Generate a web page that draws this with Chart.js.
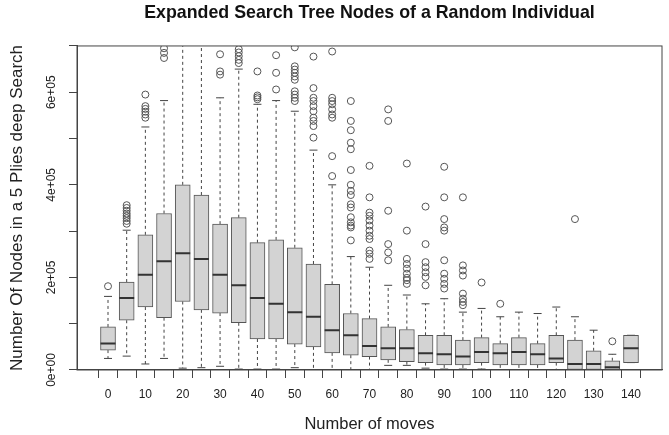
<!DOCTYPE html>
<html>
<head>
<meta charset="utf-8">
<script src="https://cdn.jsdelivr.net/npm/chart.js@4"></script>
<style>
  body { margin: 0; background: #fff; }
</style>
</head>
<body>
<canvas id="chart" width="669" height="435"></canvas>
<script>
// values are in units of 1e+05 nodes
var UNIT = 1e5;
var moves = [0, 5, 10, 15, 20, 25, 30, 35, 40, 45, 50, 55, 60, 65, 70, 75, 80, 85, 90, 95, 100, 105, 110, 115, 120, 125, 130, 135, 140];
var lowerWhisker  = [0.25, 0.30, 0.13, 0.25, 0.04, 0.05, 0.08, 0.02, 0.02, 0.02, 0.05, 0.00, 0.00, 0.00, 0.00, 0.10, 0.10, 0.04, 0.02, 0.02, 0.02, 0.00, 0.00, 0.00, 0.00, 0.00, 0.00, 0.00, 0.16];
var lowerQuartile = [0.43, 1.075, 1.36, 1.13, 1.48, 1.30, 1.23, 1.02, 0.67, 0.67, 0.56, 0.50, 0.37, 0.32, 0.29, 0.22, 0.18, 0.16, 0.11, 0.11, 0.16, 0.11, 0.11, 0.11, 0.16, 0.01, 0.01, 0.01, 0.16];
var medians       = [0.57, 1.555, 2.06, 2.35, 2.52, 2.40, 2.06, 1.83, 1.555, 1.43, 1.25, 1.15, 0.86, 0.75, 0.52, 0.47, 0.47, 0.36, 0.34, 0.29, 0.39, 0.36, 0.39, 0.34, 0.25, 0.13, 0.13, 0.06, 0.47];
var upperQuartile = [0.93, 1.90, 2.92, 3.38, 4.00, 3.78, 3.15, 3.29, 2.75, 2.81, 2.64, 2.29, 1.85, 1.22, 1.11, 0.93, 0.875, 0.75, 0.75, 0.645, 0.70, 0.57, 0.70, 0.57, 0.75, 0.645, 0.415, 0.20, 0.75];
var upperWhisker  = [1.59, 3.02, 5.25, 5.82, 7.60, 7.60, 5.88, 6.50, 5.74, 5.82, 5.59, 4.75, 4.00, 2.45, 2.22, 1.83, 1.62, 1.43, 1.54, 1.25, 1.33, 1.15, 1.25, 1.22, 1.36, 1.15, 0.86, 0.34, 0.75];
var outliers = [
  [1.81],
  [3.16, 3.22, 3.28, 3.33, 3.38, 3.44, 3.50, 3.56],
  [5.45, 5.52, 5.58, 5.64, 5.70, 5.95],
  [6.74, 6.85, 6.95],
  [],
  [],
  [6.38, 6.45, 6.82],
  [6.63, 6.70, 6.78, 6.86, 6.93],
  [5.85, 5.89, 5.93, 6.45],
  [6.06, 6.42, 6.80],
  [5.81, 5.88, 5.95, 6.02, 6.27, 6.34, 6.42, 6.49, 6.56, 6.97],
  [5.02, 5.27, 5.38, 5.45, 5.59, 5.70, 5.81, 5.88, 6.09, 6.77],
  [4.19, 4.62, 5.45, 5.52, 5.63, 5.74, 5.81, 5.88, 6.88],
  [2.80, 3.08, 3.12, 3.19, 3.30, 3.51, 3.58, 3.78, 3.87, 4.00, 4.32, 4.77, 4.91, 5.18, 5.38, 5.81],
  [2.40, 2.51, 2.58, 2.83, 2.90, 3.01, 3.12, 3.23, 3.33, 3.40, 3.73, 4.41],
  [2.37, 2.54, 2.72, 3.44, 5.38, 5.63],
  [1.86, 1.94, 1.99, 2.08, 2.19, 2.29, 2.40, 3.01, 4.46],
  [1.83, 2.01, 2.11, 2.22, 2.33, 2.72, 3.53],
  [1.76, 1.86, 1.97, 2.08, 2.37, 3.01, 3.08, 3.26, 3.73, 4.39],
  [1.40, 1.47, 1.54, 1.65, 2.04, 2.15, 2.26, 3.73],
  [1.89],
  [1.43],
  [],
  [],
  [],
  [3.26],
  [],
  [0.62],
  []
];
var xLabelValues = [0, 10, 20, 30, 40, 50, 60, 70, 80, 90, 100, 110, 120, 130, 140];
var yLabelValues = [0, 2e5, 4e5, 6e5];
var yLabelTexts = ['0e+00', '2e+05', '4e+05', '6e+05'];

var FONT = 'Liberation Sans, Arial, Helvetica, sans-serif';
var LINE = '#444';

var boxes = [];
var points = [];
for (var i = 0; i < moves.length; i++) {
  boxes.push({ x: moves[i], y: [lowerQuartile[i] * UNIT, upperQuartile[i] * UNIT] });
  for (var j = 0; j < outliers[i].length; j++) {
    points.push({ x: moves[i], y: outliers[i][j] * UNIT });
  }
}

// whiskers, medians and the frame round the plot
var boxParts = {
  id: 'boxParts',
  beforeDatasetsDraw: function (chart) {
    var ctx = chart.ctx, xs = chart.scales.x, ys = chart.scales.y, a = chart.chartArea;
    ctx.save();
    ctx.beginPath();
    ctx.rect(a.left, a.top, a.right - a.left, a.bottom - a.top);
    ctx.clip();
    ctx.strokeStyle = LINE;
    ctx.lineWidth = 1;
    for (var i = 0; i < moves.length; i++) {
      var px = xs.getPixelForValue(moves[i]);
      ctx.setLineDash([3, 3]);
      ctx.beginPath();
      ctx.moveTo(px, ys.getPixelForValue(upperQuartile[i] * UNIT));
      ctx.lineTo(px, ys.getPixelForValue(upperWhisker[i] * UNIT));
      ctx.moveTo(px, ys.getPixelForValue(lowerQuartile[i] * UNIT));
      ctx.lineTo(px, ys.getPixelForValue(lowerWhisker[i] * UNIT));
      ctx.stroke();
      ctx.setLineDash([]);
      ctx.beginPath();
      [upperWhisker[i], lowerWhisker[i]].forEach(function (v) {
        var py = ys.getPixelForValue(v * UNIT);
        ctx.moveTo(px - 4, py);
        ctx.lineTo(px + 4, py);
      });
      ctx.stroke();
    }
    ctx.restore();
  },
  afterDatasetDraw: function (chart, args) {
    if (args.index !== 0) return;
    var ctx = chart.ctx, ys = chart.scales.y;
    var bars = args.meta.data;
    ctx.save();
    ctx.strokeStyle = '#333';
    ctx.lineWidth = 2;
    ctx.beginPath();
    for (var i = 0; i < bars.length; i++) {
      var py = ys.getPixelForValue(medians[i] * UNIT);
      ctx.moveTo(bars[i].x - bars[i].width / 2, py);
      ctx.lineTo(bars[i].x + bars[i].width / 2, py);
    }
    ctx.stroke();
    ctx.restore();
  },
  afterDraw: function (chart) {
    var ctx = chart.ctx, a = chart.chartArea;
    ctx.save();
    ctx.strokeStyle = LINE;
    ctx.lineWidth = 1;
    ctx.strokeRect(a.left, a.top, a.right - a.left, a.bottom - a.top);
    ctx.restore();
  }
};

new Chart(document.getElementById('chart'), {
  type: 'bar',
  data: {
    datasets: [{
      data: boxes,
      backgroundColor: '#d3d3d3',
      borderColor: '#555',
      borderWidth: 1,
      borderSkipped: false,
      barThickness: 15
    }, {
      type: 'scatter',
      data: points,
      pointStyle: 'circle',
      pointRadius: 3.5,
      pointBorderColor: '#555',
      pointBorderWidth: 1,
      pointBackgroundColor: 'rgba(0,0,0,0)'
    }]
  },
  options: {
    responsive: false,
    animation: false,
    layout: { padding: { left: 0, right: 7, top: 0, bottom: 0 } },
    plugins: {
      legend: { display: false },
      tooltip: { enabled: false },
      title: {
        display: true,
        fullSize: false,
        text: 'Expanded Search Tree Nodes of a Random Individual',
        color: '#111',
        font: { family: FONT, size: 17.8, weight: 'bold' },
        padding: { top: 2, bottom: 22.6 }
      }
    },
    scales: {
      x: {
        type: 'linear',
        min: -8.3,
        max: 148.3,
        offset: false,
        afterBuildTicks: function (scale) {
          scale.ticks = moves.map(function (v) { return { value: v }; });
        },
        afterFit: function (scale) { scale.height = 65; },
        ticks: {
          autoSkip: false,
          maxRotation: 0,
          minRotation: 0,
          padding: 9,
          color: '#222',
          font: { family: FONT, size: 12 },
          callback: function (value) {
            return xLabelValues.indexOf(value) >= 0 ? String(value) : '';
          }
        },
        grid: { drawOnChartArea: false, tickLength: 8, color: LINE },
        border: { color: LINE },
        title: {
          display: true,
          text: 'Number of moves',
          color: '#222',
          font: { family: FONT, size: 16.5 },
          padding: { top: 0, bottom: 1 }
        }
      },
      y: {
        min: 0,
        max: 7e5,
        afterFit: function (scale) { scale.width = 77; },
        ticks: {
          stepSize: 1e5,
          minRotation: 90,
          maxRotation: 90,
          crossAlign: 'center',
          padding: 0,
          color: '#222',
          font: { family: FONT, size: 12 },
          callback: function (value) {
            var k = yLabelValues.indexOf(value);
            return k >= 0 ? yLabelTexts[k] : '';
          }
        },
        grid: { drawOnChartArea: false, tickLength: 8, color: LINE },
        border: { color: LINE },
        title: {
          display: true,
          text: 'Number Of Nodes in a 5 Plies deep Search',
          color: '#222',
          font: { family: FONT, size: 17 },
          padding: { top: 7, bottom: 0 }
        }
      }
    }
  },
  plugins: [boxParts]
});
</script>
</body>
</html>
